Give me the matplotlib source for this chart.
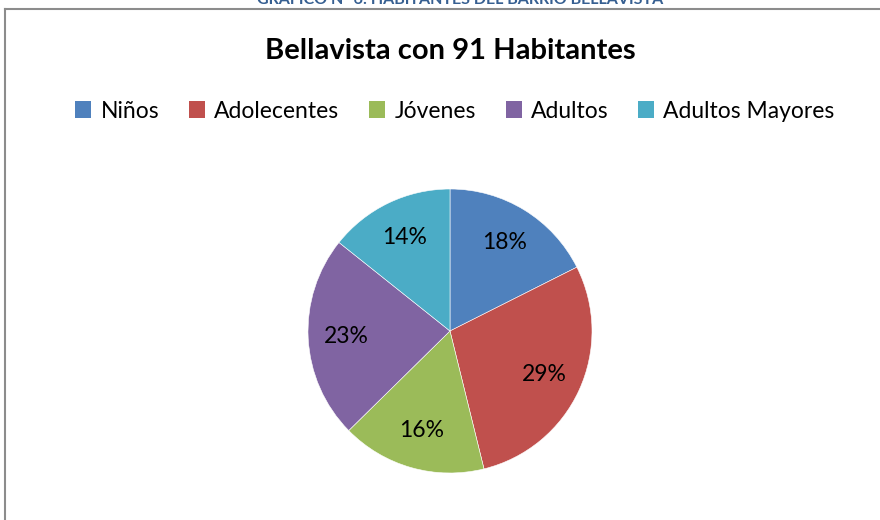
import matplotlib
matplotlib.use("Agg")
import matplotlib.pyplot as plt
from matplotlib.patches import Patch
from matplotlib.lines import Line2D

categories = ["Niños", "Adolecentes", "Jóvenes", "Adultos", "Adultos Mayores"]
values = [16, 26, 15, 21, 13]
colors = ["#4F81BD", "#C0504D", "#9BBB59", "#8064A2", "#4BACC6"]
title = "Bellavista con 91 Habitantes"
caption = "GRÁFICO N° 6: HABITANTES DEL BARRIO BELLAVISTA"

W, H = 880, 520
plt.rcParams['font.family'] = ['Lato', 'DejaVu Sans']
fig = plt.figure(figsize=(W / 100, H / 100), dpi=100)
fig.patch.set_facecolor("white")

def fx(x):
    return x / W

def fy(y):
    return 1 - y / H

# frame
fig.add_artist(Line2D([fx(5), fx(880)], [fy(9), fy(9)], color="#8C8C8C", lw=1.5))
fig.add_artist(Line2D([fx(5), fx(5)], [fy(9), fy(520)], color="#8C8C8C", lw=1.5))

# caption at top (cut off by the page edge, as in the reference)
fig.text(fx(460), fy(4.5), caption, ha="center", va="baseline", fontsize=11.5,
         fontweight="bold", color="#365F91")

# title
fig.text(fx(450), fy(51), title, ha="center", va="center", fontsize=21,
         fontweight="bold", color="black")

# pie
cx, cy, r = 450, 331, 142
ax = fig.add_axes([fx(cx - r), fy(cy + r), 2 * r / W, 2 * r / H])
wedges, texts, autotexts = ax.pie(values, colors=colors, startangle=90, counterclock=False,
                                  autopct='%1.0f%%', pctdistance=0.73, radius=1,
                                  wedgeprops=dict(edgecolor="white", linewidth=0.4),
                                  textprops=dict(fontsize=16.5, color="black"))
ax.set_xlim(-1, 1)
ax.set_ylim(-1, 1)
ax.set_aspect("equal")
ax.axis("off")

# legend
handles = [Patch(facecolor=c, edgecolor="none") for c in colors]
leg = fig.legend(handles, categories, loc="center", bbox_to_anchor=(fx(455), fy(111)),
                 ncol=5, frameon=False, fontsize=16.5, handlelength=0.7, handleheight=0.7,
                 handletextpad=0.4, columnspacing=1.3)

fig.savefig("out.png", dpi=100)
